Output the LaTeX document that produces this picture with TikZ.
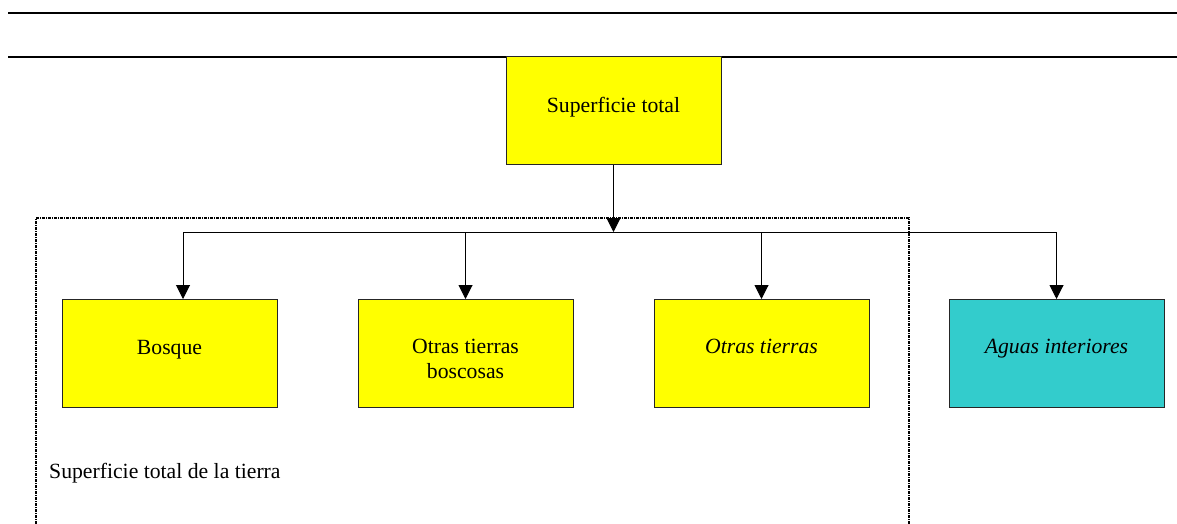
\documentclass[tikz,border=0pt]{standalone}
\usepackage{fontspec}
\setmainfont{Liberation Serif}
\usetikzlibrary{arrows.meta}
\definecolor{boxyellow}{HTML}{FFFF00}
\definecolor{boxcyan}{HTML}{33CCCC}
\begin{document}
\begin{tikzpicture}[x=1pt,y=-1pt,
  box/.style={draw=black!85,line width=1pt,minimum width=215pt,minimum height=108pt,inner sep=0pt,outer sep=0pt},
  txt/.style={font=\fontsize{21.7}{25}\selectfont,anchor=base,inner sep=0pt,align=center},
  conn/.style={line width=1pt,draw=black},
  arr/.style={conn,-{Triangle[width=14pt,length=14pt]}},
  rule/.style={line width=2pt,draw=black}]
\useasboundingbox (0,0) rectangle (1177,523);
% top rules
\coordinate (r1a) at (8,13); \coordinate (r1b) at (1177,13);
\coordinate (r2a) at (8,57); \coordinate (r2b) at (1177,57);
\draw[rule] (r1a) -- (r1b);
\draw[rule] (r2a) -- (r2b);
% dotted region
\coordinate (d1) at (36,530); \coordinate (d2) at (36,218);
\coordinate (d3) at (909,218); \coordinate (d4) at (909,530);
\draw[line width=1.5pt,dash pattern=on 3pt off 1pt on 1pt off 1pt] (d1) -- (d2) -- (d3) -- (d4);
% boxes
\node[box,fill=boxyellow] (st) at (613.5,110.5) {};
\node[box,fill=boxyellow] (bo) at (169.5,353) {};
\node[box,fill=boxyellow] (otb) at (465.5,353) {};
\node[box,fill=boxyellow] (ot) at (761.5,353) {};
\node[box,fill=boxcyan] (ai) at (1056.5,353) {};
% texts
\node[txt] (stt) at (613.5,112) {Superficie total};
\node[txt] (bot) at (169.5,354) {Bosque};
\node[txt] (otbt1) at (465.5,353) {Otras tierras};
\node[txt] (otbt2) at (465.5,378) {boscosas};
\node[txt] (ott) at (761.5,353) {\itshape Otras tierras};
\node[txt] (ait) at (1056.5,353) {\itshape Aguas interiores};
\node[txt,anchor=base west] (lab) at (49,478) {Superficie total de la tierra};
% connectors
\coordinate (j) at (613.5,232);
\coordinate (h1) at (183,232);
\coordinate (e1) at (183,299);
\coordinate (h2) at (otb.north |- j);
\coordinate (h3) at (ot.north |- j);
\coordinate (h4) at (ai.north |- j);
\draw[arr] (st.south) -- (j);
\draw[conn] (h1) -- (h4);
\draw[arr] (h1) -- (e1);
\draw[arr] (h2) -- (otb.north);
\draw[arr] (h3) -- (ot.north);
\draw[arr] (h4) -- (ai.north);
\end{tikzpicture}
\end{document}
